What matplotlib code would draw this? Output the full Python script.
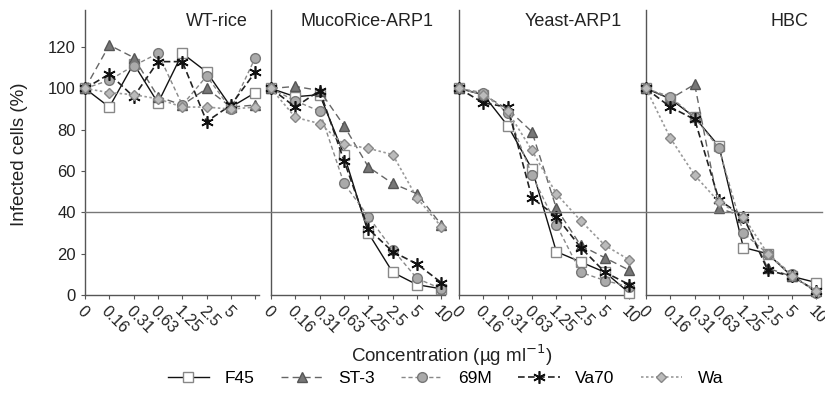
import matplotlib
matplotlib.use("Agg")
import matplotlib.pyplot as plt
from matplotlib.lines import Line2D

plt.rcParams['font.family'] = ['Liberation Sans', 'DejaVu Sans']

# ---------------------------
# Datos
# ---------------------------
conc_labels = ["0", "0.16", "0.31", "0.63", "1.25", "2.5", "5", "10"]
panel_names = ["WT-rice", "MucoRice-ARP1", "Yeast-ARP1", "HBC"]
strains = ["F45", "ST-3", "69M", "Va70", "Wa"]

f45_wt = [100, 91, 112, 93, 117, 108, 91, 98]
st3_wt = [100, 121, 115, 96, 92, 100, 91, 92]
m69_wt = [100, 104, 111, 117, 92, 106, 90, 115]
va70_wt = [100, 107, 96, 113, 113, 84, 92, 108]
wa_wt = [100, 98, 97, 95, 91, 91, 90, 91]

f45_mr = [100, 96, 97, 68, 30, 11, 5, 3]
st3_mr = [100, 101, 99, 82, 62, 54, 49, 34]
m69_mr = [100, 94, 89, 54, 38, 22, 8, 3]
va70_mr = [100, 91, 99, 65, 32, 21, 15, 6]
wa_mr = [100, 86, 83, 73, 71, 68, 47, 33]

f45_ye = [100, 97, 82, 61, 21, 16, 11, 1]
st3_ye = [100, 97, 90, 79, 42, 24, 18, 12]
m69_ye = [100, 98, 88, 58, 34, 11, 7, 4]
va70_ye = [100, 93, 91, 47, 38, 23, 11, 5]
wa_ye = [100, 97, 89, 70, 49, 36, 24, 17]

f45_hbc = [100, 95, 86, 72, 23, 20, 9, 6]
st3_hbc = [100, 95, 102, 42, 38, 13, 9, 2]
m69_hbc = [100, 96, 86, 71, 30, 20, 10, 1]
va70_hbc = [100, 91, 85, 46, 38, 12, 9, 2]
wa_hbc = [100, 76, 58, 45, 38, 20, 9, 2]

panel_data = [
    [f45_wt, st3_wt, m69_wt, va70_wt, wa_wt],
    [f45_mr, st3_mr, m69_mr, va70_mr, wa_mr],
    [f45_ye, st3_ye, m69_ye, va70_ye, wa_ye],
    [f45_hbc, st3_hbc, m69_hbc, va70_hbc, wa_hbc],
]

# estilos por cepa (escala de grises)
styles = [
    dict(color='#111111', ls='-', marker='s', ms=6.5, mfc='white', mec='#888888', lw=1.0),
    dict(color='#666666', ls=(0, (5, 3)), marker='^', ms=7, mfc='#777777', mec='#555555', lw=1.0),
    dict(color='#888888', ls=(0, (3, 2)), marker='o', ms=7, mfc='#aaaaaa', mec='#777777', lw=1.0),
    dict(color='#222222', ls=(0, (4, 2)), marker=(6, 2, 0), ms=9, mfc='none', mec='#111111', mew=1.2, lw=1.2),
    dict(color='#999999', ls=(0, (1.5, 1.5)), marker='D', ms=5.5, mfc='#bbbbbb', mec='#888888', lw=1.2),
]

fig = plt.figure(figsize=(8.25, 4.05), dpi=100)

W, H = 825.0, 405.0
lefts = [85, 271, 459, 646]
pw = 174
bottom = (H - 295) / H
height = 285 / H
xs = list(range(len(conc_labels)))

axes = []
for i, (name, series) in enumerate(zip(panel_names, panel_data)):
    ax = fig.add_axes([lefts[i] / W, bottom, pw / W, height])
    axes.append(ax)
    for vals, st in zip(series, styles):
        ax.plot(xs, vals, clip_on=False, zorder=3, **st)
    ax.set_xlim(0, 7.15)
    ax.set_ylim(0, 138)
    for s in ['top', 'right']:
        ax.spines[s].set_visible(False)
    for s in ['left', 'bottom']:
        ax.spines[s].set_color('#555555')
        ax.spines[s].set_linewidth(1.0)
    ax.set_xticks(xs)
    labels = list(conc_labels)
    if i == 0:
        labels[-1] = ""
    ax.set_xticklabels(labels, rotation=-45, ha='left', va='top',
                       rotation_mode='anchor', fontsize=11.5, color='#222222')
    ax.tick_params(axis='x', length=3, width=0.8, color='#555555', pad=3)
    if i == 0:
        ax.set_yticks(range(0, 121, 20))
        ax.tick_params(axis='y', length=3, width=0.8, color='#555555',
                       labelsize=12, labelcolor='#222222')
    else:
        ax.set_yticks([])
    ax.text(0.935, 132.5, name, transform=ax.get_yaxis_transform(),
            ha='right', va='center', fontsize=13, color='#222222')

# línea de referencia 40 % a lo ancho de todos los paneles
y40 = bottom + height * 40 / 138
fig.add_artist(Line2D([lefts[0] / W, 822 / W], [y40, y40],
                      color='#777777', lw=1.0, zorder=1))

fig.text(0.548, 0.123, "Concentration (µg ml$^{-1}$)", ha='center', va='center',
         fontsize=13.5, color='#222222')
fig.text(0.024, 0.62, "Infected cells (%)", rotation=90, ha='center', va='center',
         fontsize=13.5, color='#222222')

handles = [Line2D([], [], **st) for st in styles]
fig.legend(handles, strains, loc='center', bbox_to_anchor=(0.54, 0.066), ncol=5,
           frameon=False, fontsize=12.5, handlelength=2.4, columnspacing=1.5,
           handletextpad=0.9)

fig.savefig("out.png", dpi=100)
